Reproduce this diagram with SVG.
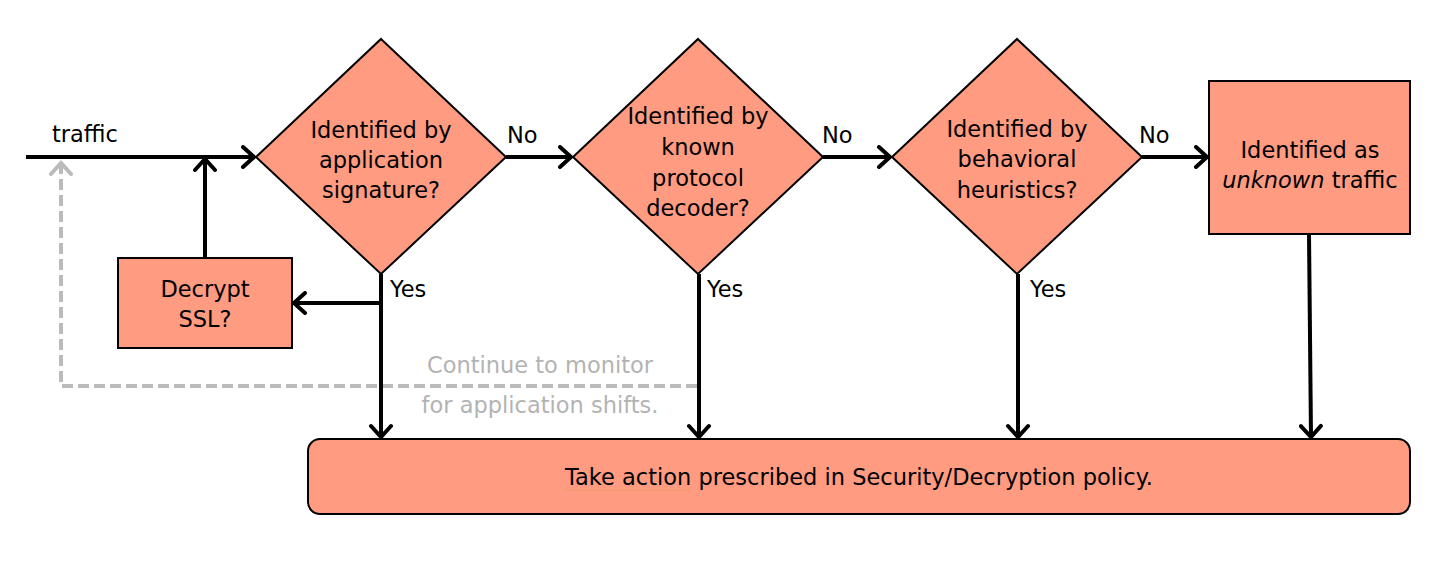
<svg xmlns="http://www.w3.org/2000/svg" width="1445" height="564" viewBox="0 0 1445 564">
<style>
.shape{fill:#FF9B80;stroke:#000;stroke-width:2}
.t{font-family:"DejaVu Sans","Liberation Sans",sans-serif;font-size:22.5px;fill:#000;text-anchor:middle}
.l{font-family:"DejaVu Sans","Liberation Sans",sans-serif;font-size:22.5px;fill:#000}
.g{font-family:"DejaVu Sans","Liberation Sans",sans-serif;font-size:22.5px;fill:#B3B3B3;text-anchor:middle}
.c{fill:none;stroke:#000;stroke-width:4}
.d{fill:none;stroke:#BBBBBB;stroke-width:4;stroke-dasharray:11 5}
</style>
<defs>
<marker id="a" markerUnits="userSpaceOnUse" markerWidth="24" markerHeight="24" viewBox="-14 -12 16 24" refX="0" refY="0" orient="auto">
<path d="M-11,-10 L0,0 L-11,10" fill="none" stroke="#000" stroke-width="4" stroke-linecap="round" stroke-linejoin="miter"/>
</marker>
<marker id="ag" markerUnits="userSpaceOnUse" markerWidth="24" markerHeight="24" viewBox="-14 -12 16 24" refX="0" refY="0" orient="auto">
<path d="M-11,-10 L0,0 L-11,10" fill="none" stroke="#BBBBBB" stroke-width="4" stroke-linecap="round"/>
</marker>
</defs>
<rect width="1445" height="564" fill="#fff"/>

<g id="nodes">
<g id="bottom">
<rect class="shape" x="308" y="439" width="1102" height="75" rx="12"/>
<text class="t" x="859" y="485">Take action prescribed in Security/Decryption policy.</text>
<line x1="566" y1="490" x2="692" y2="490" stroke="#D4A24A" stroke-width="1.2" stroke-dasharray="1.5 1.5"/>
</g>
<g id="d1">
<polygon class="shape" points="381,39 506,157 381,274 256,157"/>
<text class="t" x="381" y="138">Identified by</text>
<text class="t" x="381" y="168">application</text>
<text class="t" x="381" y="198">signature?</text>
</g>
<g id="d2">
<polygon class="shape" points="698,39 823,157 698,274 573,157"/>
<text class="t" x="698" y="124">Identified by</text>
<text class="t" x="698" y="155">known</text>
<text class="t" x="698" y="186">protocol</text>
<text class="t" x="698" y="216">decoder?</text>
</g>
<g id="d3">
<polygon class="shape" points="1017,39 1142,157 1017,274 892,157"/>
<text class="t" x="1017" y="137">Identified by</text>
<text class="t" x="1017" y="167">behavioral</text>
<text class="t" x="1017" y="198">heuristics?</text>
</g>
<g id="unknown">
<rect class="shape" x="1209" y="81" width="201" height="153"/>
<text class="t" x="1310" y="158">Identified as</text>
<text class="t" x="1310" y="188"><tspan font-style="italic">unknown</tspan> traffic</text>
</g>
<g id="decrypt">
<rect class="shape" x="118" y="258" width="174" height="90"/>
<text class="t" x="205" y="297">Decrypt</text>
<text class="t" x="205" y="327">SSL?</text>
</g>
</g>

<g id="connectors">
<path class="d" d="M697,386 H61 V163" marker-end="url(#ag)"/>
<path class="c" d="M26,157 H254" marker-end="url(#a)"/>
<path class="c" d="M205,258 V159" marker-end="url(#a)"/>
<path class="c" d="M381,274 V437" marker-end="url(#a)"/>
<path class="c" d="M381,303 H294" marker-end="url(#a)"/>
<path class="c" d="M506,157 H571" marker-end="url(#a)"/>
<path class="c" d="M823,157 H890" marker-end="url(#a)"/>
<path class="c" d="M1142,157 H1207" marker-end="url(#a)"/>
<path class="c" d="M699,274 V437" marker-end="url(#a)"/>
<path class="c" d="M1018,274 V437" marker-end="url(#a)"/>
<path class="c" d="M1309,234 L1311,437" marker-end="url(#a)"/>
</g>

<g id="labels">
<text class="l" x="52" y="142">traffic</text>
<text class="l" x="507" y="143">No</text>
<text class="l" x="822" y="143">No</text>
<text class="l" x="1139" y="143">No</text>
<text class="l" x="390" y="297">Yes</text>
<text class="l" x="707" y="297">Yes</text>
<text class="l" x="1030" y="297">Yes</text>
<text class="g" x="540" y="373">Continue to monitor</text>
<text class="g" x="540" y="413">for application shifts.</text>
</g>
</svg>
